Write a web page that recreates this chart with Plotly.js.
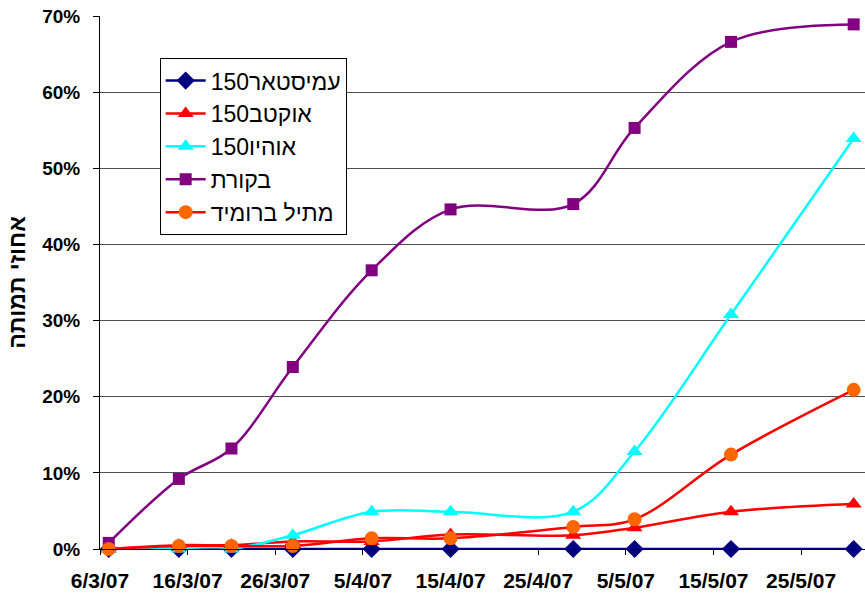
<!DOCTYPE html>
<html>
<head>
<meta charset="utf-8">
<script src="https://cdn.plot.ly/plotly-3.0.1.min.js"></script>
<style>html,body{margin:0;padding:0;background:#fff;}#chart{width:865px;height:596px;}</style>
</head>
<body>
<div id="chart"></div>
<script>
// Sampling dates
var dates = ['2007-03-07','2007-03-15','2007-03-21','2007-03-28','2007-04-06','2007-04-15','2007-04-29','2007-05-06','2007-05-17','2007-05-31'];
// Series names
var names = ['עמיסטאר150','אוקטב150','אוהיו150','בקורת','מתיל ברומיד'];
// Mortality percentages
var amistar = [0,0,0,0,0,0,0,0,0,0];
var octave  = [0,0.5,0.5,1.0,1.0,1.9,1.8,2.8,4.9,5.9];
var ohio    = [0,0,0,1.8,4.9,4.9,4.9,12.8,30.8,53.9];
var control = [0.8,9.2,13.2,23.9,36.6,44.6,45.3,55.3,66.6,68.9];
var methyl  = [0,0.4,0.4,0.4,1.4,1.4,2.9,3.9,12.4,20.9];
var yTitle = 'אחוזי תמותה';

var FONT = 'Liberation Sans, Arial, sans-serif';
function tr(y, name, lineColor, symbol, mColor, msize, grp) {
  return {
    x: dates, y: y, name: name, type: 'scatter', mode: 'lines+markers',
    line: {color: lineColor, width: 2.5, shape: 'spline', smoothing: 1},
    marker: {symbol: symbol, color: mColor, size: msize, line: {width: 0}},
    cliponaxis: false, legendgroup: grp
  };
}
var data = [
  tr(amistar, names[0], '#000080', 'diamond', '#000080', 14, 'a'),
  tr(octave,  names[1], '#FF0000', 'triangle-up', '#FF0000', 14, 'b'),
  tr(ohio,    names[2], '#00FFFF', 'triangle-up', '#00FFFF', 14, 'c'),
  tr(control, names[3], '#800080', 'square', '#800080', 12, 'd'),
  tr(methyl,  names[4], '#FF0000', 'circle', '#FF6600', 14, 'e')
];
var layout = {
  width: 865, height: 596,
  margin: {l: 100, r: 0, t: 16, b: 47},
  paper_bgcolor: '#fff', plot_bgcolor: '#fff',
  font: {family: FONT, color: '#000'},
  showlegend: true,
  legend: {
    x: 0.078, y: 0.921, xanchor: 'left', yanchor: 'top',
    bgcolor: '#fff', bordercolor: '#000', borderwidth: 1,
    font: {family: FONT, size: 23, color: '#000'},
    traceorder: 'grouped', tracegroupgap: 0, itemwidth: 40
  },
  xaxis: {
    type: 'date',
    range: ['2007-03-06', '2007-06-01 07:00'],
    tick0: '2007-03-06', dtick: 10 * 86400000,
    tickformat: '%-d/%-m/%y',
    showgrid: false, zeroline: false,
    showline: true, linecolor: '#000', linewidth: 1,
    ticks: 'outside', ticklen: 5, tickcolor: '#000',
    ticklabelstandoff: 8,
    tickfont: {family: FONT, size: 21, color: '#000', weight: 'bold'}
  },
  yaxis: {
    range: [0, 70], dtick: 10, ticksuffix: '%',
    showgrid: true, gridcolor: '#505050', gridwidth: 1,
    zeroline: false,
    showline: true, linecolor: '#000', linewidth: 1,
    ticks: 'outside', ticklen: 6, tickcolor: '#000',
    ticklabelstandoff: 9,
    tickfont: {family: FONT, size: 19, color: '#000', weight: 'bold'},
    title: {text: yTitle, font: {family: FONT, size: 23, color: '#000', weight: 'bold'}, standoff: 10}
  }
};
Plotly.newPlot('chart', data, layout, {displayModeBar: false, staticPlot: true});
</script>
</body>
</html>
